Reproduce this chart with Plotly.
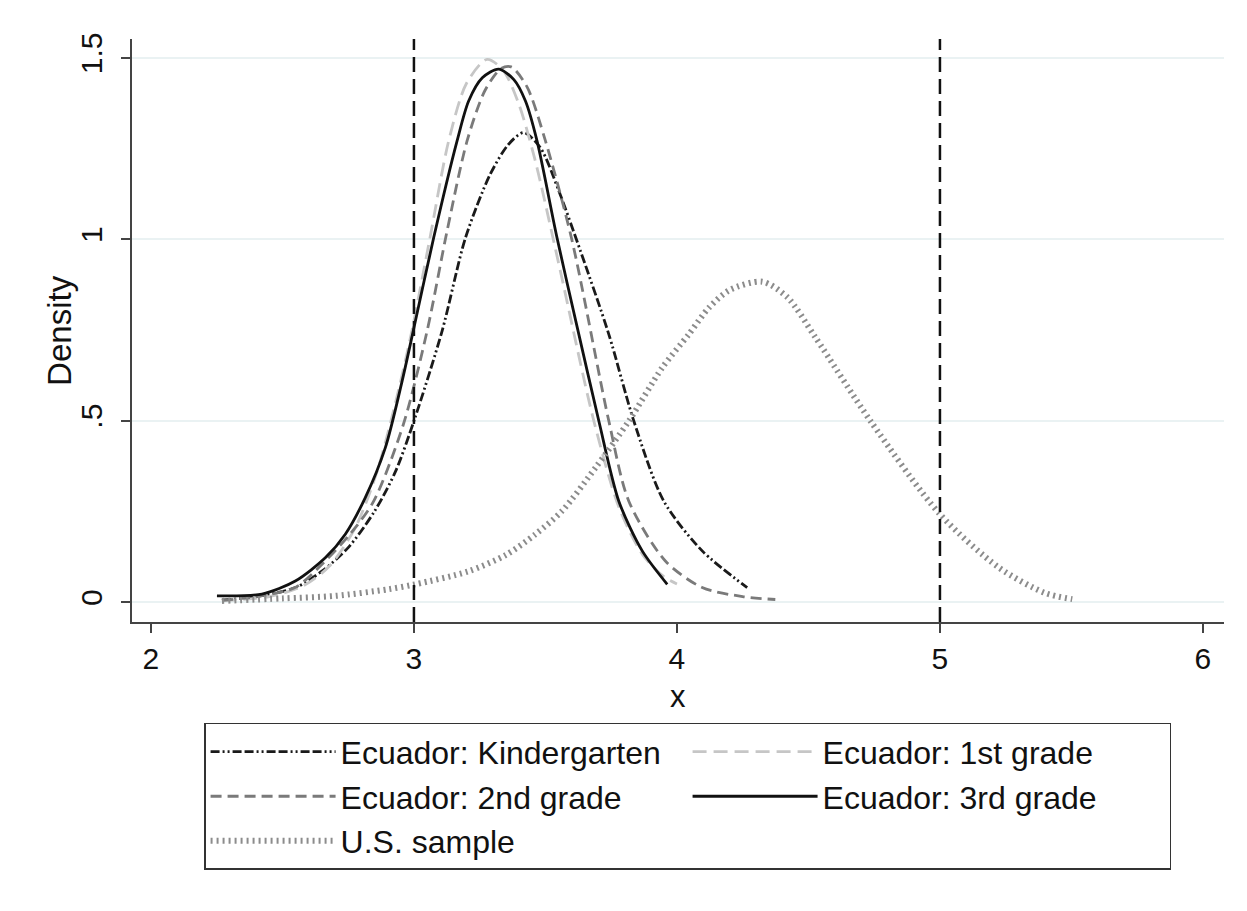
import plotly.graph_objects as go

# ---- data ----
k_x = [2.27, 2.40, 2.55, 2.65, 2.75, 2.85, 2.93, 3.005, 3.107, 3.196, 3.29, 3.36, 3.417, 3.481, 3.551, 3.633, 3.741, 3.836, 3.95, 4.096, 4.267]
k_y = [0.005, 0.015, 0.040, 0.085, 0.150, 0.250, 0.360, 0.510, 0.747, 1.004, 1.179, 1.262, 1.294, 1.252, 1.133, 0.968, 0.738, 0.499, 0.278, 0.141, 0.040]

g1_x = [2.27, 2.45, 2.58, 2.68, 2.777, 2.86, 2.93, 2.99, 3.06, 3.132, 3.20, 3.278, 3.34, 3.40, 3.46, 3.551, 3.684, 3.78, 3.87, 3.95, 4.00]
g1_y = [0.004, 0.015, 0.045, 0.100, 0.205, 0.360, 0.550, 0.740, 1.000, 1.271, 1.430, 1.496, 1.465, 1.370, 1.220, 0.931, 0.499, 0.260, 0.130, 0.070, 0.050]

g2_x = [2.27, 2.40, 2.548, 2.638, 2.76, 2.847, 2.96, 3.05, 3.126, 3.202, 3.27, 3.33, 3.37, 3.43, 3.50, 3.60, 3.741, 3.817, 3.956, 4.096, 4.25, 4.374]
g2_y = [0.005, 0.015, 0.040, 0.095, 0.190, 0.278, 0.490, 0.747, 1.023, 1.271, 1.410, 1.470, 1.475, 1.420, 1.271, 1.000, 0.499, 0.278, 0.113, 0.040, 0.015, 0.007]

g3_x = [2.251, 2.422, 2.549, 2.663, 2.739, 2.815, 2.891, 2.955, 3.00, 3.075, 3.164, 3.208, 3.26, 3.322, 3.38, 3.424, 3.468, 3.544, 3.62, 3.703, 3.779, 3.868, 3.963]
g3_y = [0.017, 0.022, 0.058, 0.122, 0.187, 0.288, 0.425, 0.609, 0.756, 1.004, 1.271, 1.381, 1.445, 1.469, 1.440, 1.381, 1.271, 1.004, 0.760, 0.499, 0.278, 0.141, 0.049]

us_x = [2.27, 2.50, 2.70, 2.90, 3.005, 3.208, 3.35, 3.462, 3.563, 3.69, 3.817, 3.944, 4.045, 4.121, 4.20, 4.324, 4.42, 4.527, 4.736, 5.00, 5.224, 5.40, 5.503]
us_y = [0.003, 0.010, 0.017, 0.035, 0.049, 0.085, 0.130, 0.187, 0.251, 0.370, 0.499, 0.646, 0.738, 0.811, 0.860, 0.883, 0.840, 0.729, 0.499, 0.242, 0.095, 0.025, 0.008]

series_names = ["Ecuador: Kindergarten", "Ecuador: 1st grade", "Ecuador: 2nd grade",
                "Ecuador: 3rd grade", "U.S. sample"]

ref_lines = [3, 5]
x_ticks = [2, 3, 4, 5, 6]
y_ticks = [0, 0.5, 1, 1.5]
y_tick_labels = ["0", ".5", "1", "1.5"]
x_title = "x"
y_title = "Density"

FONT = "Liberation Sans, Arial, sans-serif"

styles = [
    dict(color="#1a1a1a", width=2.8, dash="9px,3px,2px,3px,2px,3px,9px,3px"),
    dict(color="#c6c6c6", width=2.8, dash="14px,7px"),
    dict(color="#7a7a7a", width=2.8, dash="11px,6px"),
    dict(color="#111111", width=2.8, dash="solid"),
    dict(color="#8c8c8c", width=6, dash="2px,4px"),
]

fig = go.Figure()
for (xs, ys), name, st in zip([(k_x, k_y), (g1_x, g1_y), (g2_x, g2_y), (g3_x, g3_y), (us_x, us_y)],
                              series_names, styles):
    fig.add_trace(go.Scatter(x=xs, y=ys, mode="lines", name=name,
                             line=dict(shape="spline", smoothing=0.8, **st)))

for xv in ref_lines:
    fig.add_shape(type="line", x0=xv, x1=xv, xref="x", y0=0, y1=1, yref="paper",
                  line=dict(color="#111111", width=2.5, dash="15px,7px"))

# axis titles
fig.add_annotation(text=x_title, xref="paper", yref="paper", x=0.5, y=-0.1286,
                   xanchor="center", yanchor="middle", showarrow=False,
                   font=dict(family=FONT, size=31, color="#111111"))
fig.add_annotation(text=y_title, xref="paper", yref="paper", x=-0.0665, y=0.5,
                   xanchor="center", yanchor="middle", showarrow=False, textangle=-90,
                   font=dict(family=FONT, size=33, color="#111111"))

fig.update_layout(
    width=1247, height=911,
    margin=dict(l=124, r=31, t=31, b=297),
    paper_bgcolor="white", plot_bgcolor="white",
    font=dict(family=FONT, size=30, color="#111111"),
    showlegend=True,
    legend=dict(orientation="h", x=0.066, xanchor="left", y=-0.173, yanchor="top",
                bordercolor="#333333", borderwidth=1.5, bgcolor="white",
                font=dict(family=FONT, size=32, color="#111111"),
                entrywidth=342, entrywidthmode="pixels",
                itemwidth=125, tracegroupgap=0, traceorder="normal"),
    xaxis=dict(range=[1.928, 6.08], tickvals=x_ticks, showgrid=False, zeroline=False,
               showline=True, linecolor="#444444", linewidth=1.5,
               ticks="outside", ticklen=9, tickcolor="#444444", tickwidth=1.5,
               ticklabelstandoff=0),
    yaxis=dict(range=[-0.055, 1.552], tickvals=y_ticks, ticktext=y_tick_labels, tickangle=-90,
               showgrid=True, gridcolor="#eaf2f3", gridwidth=1.5, zeroline=False,
               showline=True, linecolor="#444444", linewidth=1.5,
               ticks="outside", ticklen=9, tickcolor="#444444", tickwidth=1.5,
               ticklabelstandoff=7),
)

fig.write_html("out.html")
